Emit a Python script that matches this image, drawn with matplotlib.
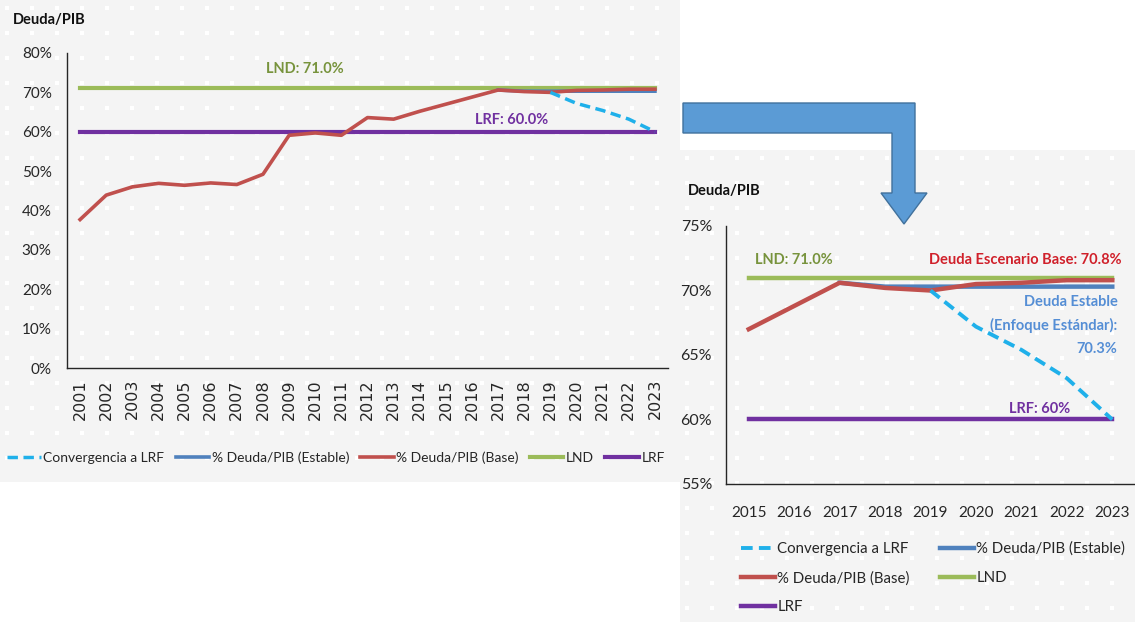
import numpy as np
import matplotlib.pyplot as plt
from matplotlib.patches import Rectangle, Polygon

plt.rcParams['font.family'] = ['Lato', 'DejaVu Sans']

# series (% of GDP)
years = list(range(2001, 2024))
deuda_base = [37.7, 43.9, 46.0, 46.9, 46.4, 47.0, 46.6, 49.2, 59.1, 59.7, 59.1, 63.6,
              63.2, 65.2, 67.0, 68.8, 70.6, 70.2, 70.0, 70.5, 70.6, 70.8, 70.8]
years_estable = [2017, 2018, 2019, 2020, 2021, 2022, 2023]
deuda_estable = [70.6, 70.3, 70.3, 70.3, 70.3, 70.3, 70.3]
years_conv = [2019, 2020, 2021, 2022, 2023]
convergencia = [70.0, 67.2, 65.4, 63.2, 60.0]
lnd = 71.0
lrf = 60.0

c_conv = '#1FB0EA'
c_est = '#4F81BD'
c_base = '#C0504D'
c_lnd = '#9BBB59'
c_lrf = '#7030A0'

W, H = 1135, 622
fig = plt.figure(figsize=(W / 100, H / 100), dpi=100)
fig.patch.set_facecolor('white')

# background layer in pixel coordinates
bg = fig.add_axes([0, 0, 1, 1], zorder=-5)
bg.set_xlim(0, W)
bg.set_ylim(H, 0)
bg.axis('off')
panels = [(0, 0, 680, 482), (680, 150, W - 680, H - 150)]
for (x0, y0, w, h) in panels:
    bg.add_patch(Rectangle((x0, y0), w, h, facecolor='#F4F4F4', edgecolor='none'))
    gx, gy = np.meshgrid(np.arange(x0 + 7, x0 + w, 25), np.arange(y0 + 8, y0 + h, 25))
    bg.scatter(gx.ravel(), gy.ravel(), s=5, marker='s', color='white', linewidths=0)

# bent arrow between the two panels
arrow = [(683, 103), (915, 103), (915, 193), (927, 193), (904, 224),
         (881, 193), (892, 193), (892, 133), (683, 133)]
bg.add_patch(Polygon(arrow, closed=True, facecolor='#5B9BD5', edgecolor='#41719C', lw=1))


def frac(x0, y0, x1, y1):
    return [x0 / W, 1 - y1 / H, (x1 - x0) / W, (y1 - y0) / H]


def style_axes(ax):
    ax.set_facecolor('none')
    for s in ['top', 'right']:
        ax.spines[s].set_visible(False)
    for s in ['left', 'bottom']:
        ax.spines[s].set_color('#262626')
        ax.spines[s].set_linewidth(1.0)
    ax.tick_params(length=0, colors='#262626')
    ax.yaxis.set_major_formatter(plt.FuncFormatter(lambda v, p: '{:.0f}%'.format(v)))


# ---- left chart: 2001-2023
ax1 = fig.add_axes(frac(67, 53, 668, 368))
style_axes(ax1)
ax1.plot(years, [lnd] * len(years), color=c_lnd, lw=3, label='LND', zorder=2)
ax1.plot(years, [lrf] * len(years), color=c_lrf, lw=3, label='LRF', zorder=2)
ax1.plot(years_estable, deuda_estable, color=c_est, lw=2.6, label='% Deuda/PIB (Estable)', zorder=3)
ax1.plot(years, deuda_base, color=c_base, lw=2.6, label='% Deuda/PIB (Base)', zorder=4)
ax1.plot(years_conv, convergencia, color=c_conv, lw=2.5, ls=(0, (3, 1.6)),
         label='Convergencia a LRF', zorder=5)
ax1.set_xlim(2000.5, 2023.5)
ax1.set_ylim(0, 80)
ax1.set_yticks(range(0, 81, 10))
ax1.set_xticks(years)
ax1.set_xticklabels([str(y) for y in years], rotation=90, fontsize=11.5, family=['DejaVu Sans'])
ax1.tick_params(axis='x', pad=8)
ax1.tick_params(axis='y', labelsize=11, pad=11)
ax1.text(2009.6, 75.9, 'LND: {:.1f}%'.format(lnd), color='#77933C', fontsize=10.5,
         fontweight='bold', ha='center', va='center')
ax1.text(2017.5, 62.9, 'LRF: {:.1f}%'.format(lrf), color=c_lrf, fontsize=10.5,
         fontweight='bold', ha='center', va='center')
fig.text(13 / W, 1 - 20 / H, 'Deuda/PIB', fontsize=10.5, fontweight='bold',
         ha='left', va='center', color='#111111')

h, l = ax1.get_legend_handles_labels()
order = ['Convergencia a LRF', '% Deuda/PIB (Estable)', '% Deuda/PIB (Base)', 'LND', 'LRF']
hl = dict(zip(l, h))
fig.legend([hl[k] for k in order], order, loc='center', bbox_to_anchor=(336 / W, 1 - 458 / H),
           ncol=5, frameon=False, fontsize=10, handlelength=2.4, handletextpad=0.2,
           columnspacing=0.8, labelcolor='#262626')

# ---- right chart: zoom on 2015-2023
yrs2 = years[14:]
base2 = deuda_base[14:]
ax2 = fig.add_axes(frac(726, 226, 1135, 484))
style_axes(ax2)
ax2.plot(yrs2, [lnd] * len(yrs2), color=c_lnd, lw=3.2, label='LND', zorder=2)
ax2.plot(yrs2, [lrf] * len(yrs2), color=c_lrf, lw=3.2, label='LRF', zorder=2)
ax2.plot(years_estable, deuda_estable, color=c_est, lw=3.2, label='% Deuda/PIB (Estable)', zorder=3)
ax2.plot(yrs2, base2, color=c_base, lw=3.2, label='% Deuda/PIB (Base)', zorder=4)
ax2.plot(years_conv, convergencia, color=c_conv, lw=2.8, ls=(0, (3, 1.6)),
         label='Convergencia a LRF', zorder=5)
ax2.set_xlim(2014.5, 2023.5)
ax2.set_ylim(55, 75)
ax2.set_yticks(range(55, 76, 5))
ax2.set_xticks(yrs2)
ax2.tick_params(axis='x', labelsize=11, pad=16)
ax2.tick_params(axis='y', labelsize=11.5, pad=10)
ax2.text(2016.0, 72.4, 'LND: {:.1f}%'.format(lnd), color='#77933C', fontsize=10.5,
         fontweight='bold', ha='center', va='center')
ax2.text(2023.2, 72.4, 'Deuda Escenario Base: {:.1f}%'.format(deuda_base[-1]), color='#D0202A',
         fontsize=10.5, fontweight='bold', ha='right', va='center')
ax2.text(2023.12, 67.3, 'Deuda Estable\n(Enfoque Estándar):\n{:.1f}%'.format(deuda_estable[-1]),
         color='#558ED5', fontsize=10.5, fontweight='bold', ha='right', va='center',
         linespacing=1.8)
ax2.text(2021.4, 60.85, 'LRF: {:.0f}%'.format(lrf), color=c_lrf, fontsize=10.5,
         fontweight='bold', ha='center', va='center')
fig.text(688 / W, 1 - 191 / H, 'Deuda/PIB', fontsize=10.5, fontweight='bold',
         ha='left', va='center', color='#111111')

h2, l2 = ax2.get_legend_handles_labels()
hl2 = dict(zip(l2, h2))
order2 = ['Convergencia a LRF', '% Deuda/PIB (Base)', 'LRF', '% Deuda/PIB (Estable)', 'LND']
fig.legend([hl2[k] for k in order2], order2, loc='center', bbox_to_anchor=(933 / W, 1 - 578 / H),
           ncol=2, frameon=False, fontsize=10.8, handlelength=2.3, handletextpad=0.15,
           columnspacing=2.0, labelspacing=1.0, labelcolor='#262626')

fig.savefig('out.png', dpi=100)
